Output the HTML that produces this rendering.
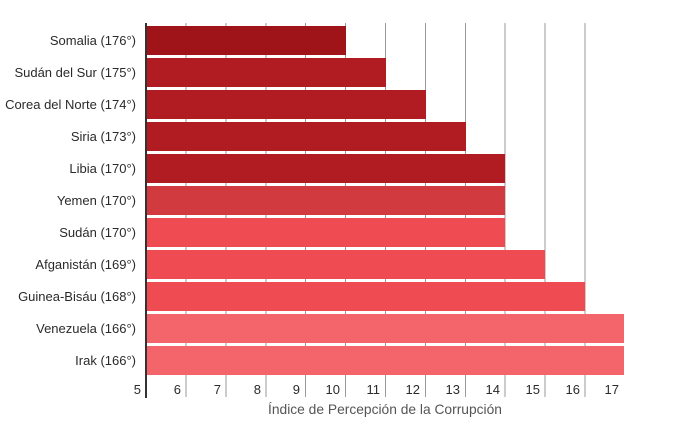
<!DOCTYPE html>
<html><head><meta charset="utf-8"><style>
body{margin:0;background:#fff;width:696px;height:428px;overflow:hidden;font-family:"Liberation Sans",sans-serif}
</style></head><body>
<svg width="696" height="428" xmlns="http://www.w3.org/2000/svg" font-family="Liberation Sans, sans-serif">
<g stroke="#9a9a9a" stroke-width="1">
<line x1="186" y1="23" x2="186" y2="397"/><line x1="226" y1="23" x2="226" y2="397"/><line x1="266" y1="23" x2="266" y2="397"/><line x1="305.5" y1="23" x2="305.5" y2="397"/><line x1="345.5" y1="23" x2="345.5" y2="397"/><line x1="385.5" y1="23" x2="385.5" y2="397"/><line x1="425.5" y1="23" x2="425.5" y2="397"/><line x1="465.5" y1="23" x2="465.5" y2="397"/><line x1="505" y1="23" x2="505" y2="397"/><line x1="545" y1="23" x2="545" y2="397"/><line x1="585" y1="23" x2="585" y2="397"/>
</g>
<g>
<rect x="146" y="26" width="200" height="29" fill="#9e1418"/>
<rect x="146" y="58" width="240" height="29" fill="#b01c22"/>
<rect x="146" y="90" width="280" height="29" fill="#b01c22"/>
<rect x="146" y="122" width="320" height="29" fill="#b01c22"/>
<rect x="146" y="154" width="359" height="29" fill="#b01c22"/>
<rect x="146" y="186" width="359" height="29" fill="#d13a3f"/>
<rect x="146" y="218" width="359" height="29" fill="#ee4c52"/>
<rect x="146" y="250" width="399" height="29" fill="#ee4c52"/>
<rect x="146" y="282" width="439" height="29" fill="#ee4c52"/>
<rect x="146" y="314" width="478" height="29" fill="#f4656b"/>
<rect x="146" y="346" width="478" height="29" fill="#f4656b"/>
</g>
<line x1="146" y1="23" x2="146" y2="398" stroke="#333" stroke-width="2"/>
<g font-size="13" fill="#2a2a2a" text-anchor="end">
<text x="136" y="45">Somalia (176°)</text>
<text x="136" y="77">Sudán del Sur (175°)</text>
<text x="136" y="109">Corea del Norte (174°)</text>
<text x="136" y="141">Siria (173°)</text>
<text x="136" y="173">Libia (170°)</text>
<text x="136" y="205">Yemen (170°)</text>
<text x="136" y="237">Sudán (170°)</text>
<text x="136" y="269">Afganistán (169°)</text>
<text x="136" y="301">Guinea-Bisáu (168°)</text>
<text x="136" y="333">Venezuela (166°)</text>
<text x="136" y="365">Irak (166°)</text>
</g>
<g font-size="13" fill="#2a2a2a" text-anchor="end">
<text x="141" y="394">5</text><text x="181" y="394">6</text><text x="221" y="394">7</text><text x="261" y="394">8</text><text x="300" y="394">9</text><text x="340" y="394">10</text><text x="380" y="394">11</text><text x="420" y="394">12</text><text x="460" y="394">13</text><text x="500" y="394">14</text><text x="540" y="394">15</text><text x="580" y="394">16</text><text x="619" y="394">17</text>
</g>
<text x="385" y="414" font-size="13.8" fill="#555" text-anchor="middle">Índice de Percepción de la Corrupción</text>
</svg>
</body></html>
